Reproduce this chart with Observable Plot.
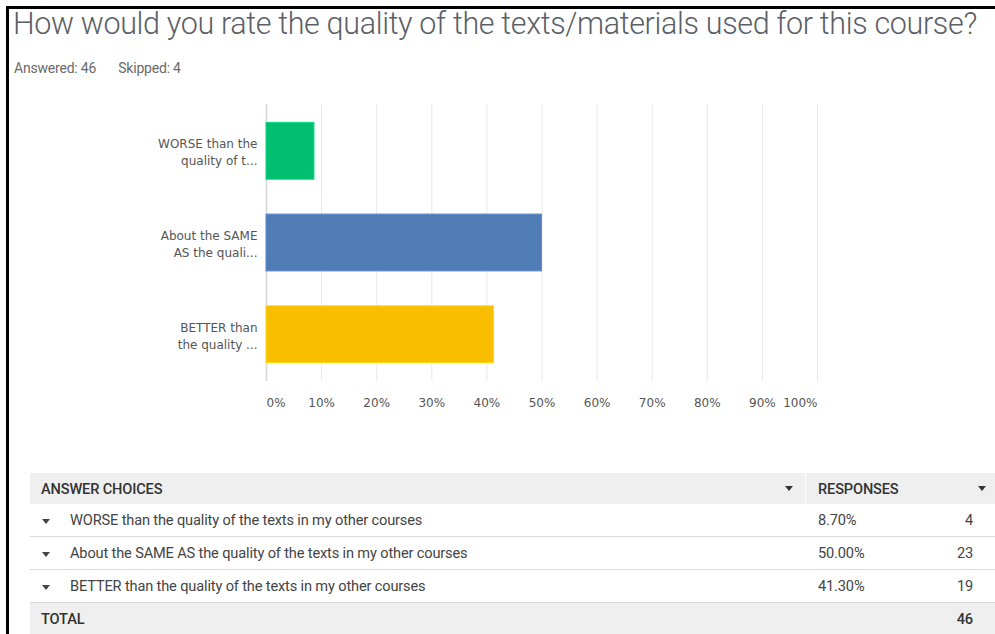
<!DOCTYPE html>
<html>
<head>
<meta charset="utf-8">
<script src="https://cdn.jsdelivr.net/npm/d3@7"></script>
<script src="https://cdn.jsdelivr.net/npm/@observablehq/plot@0.6"></script>
<style>
  html, body { margin: 0; padding: 0; background: #fff; }
  body { width: 995px; height: 634px; overflow: hidden; position: relative; font-family: Roboto, "Open Sans", sans-serif; }
  #frame { position: absolute; left: 6px; top: 6px; right: -10px; bottom: -10px; border-left: 3px solid #000; border-top: 3px solid #000; }
  #title { position: absolute; left: 13px; top: 6px; font-size: 30.5px; font-weight: 300; color: #5b5f66; white-space: nowrap; letter-spacing: -0.35px; }
  #sub { position: absolute; left: 14px; top: 60px; font-size: 14px; color: #6b6b6b; white-space: nowrap; letter-spacing: -0.2px; }
  #sub span { margin-right: 22px; }
  #chart { position: absolute; left: 0; top: 95px; }
  #tbl { position: absolute; left: 30px; top: 473px; width: 965px; table-layout: fixed; border-collapse: collapse; font-size: 14.6px; color: #333; letter-spacing: -0.15px; }
  #tbl td { padding: 0; height: 32px; border-bottom: 1px solid #d9d9d9; white-space: nowrap; }
  #tbl tr.head td, #tbl tr.total td { background: #efefef; font-weight: 500; color: #333; border-bottom: 0; }
  #tbl tr.head td { height: 31px; }
  #tbl tr.total td { height: 31px; }
  .tri { display: inline-block; width: 0; height: 0; border-left: 4px solid transparent; border-right: 4px solid transparent; border-top: 5px solid #333; vertical-align: middle; }
</style>
</head>
<body>
<div id="frame"></div>
<div id="title"></div>
<div id="sub"></div>
<div id="chart"></div>
<table id="tbl"><colgroup><col style="width:745px"><col style="width:30px"><col style="width:1px"><col style="width:140px"><col style="width:49px"></colgroup><tbody id="tb"></tbody></table>
<script>
const title = "How would you rate the quality of the texts/materials used for this course?";
const answered = 46;
const skipped = 4;
const choices = [
  "WORSE than the quality of the texts in my other courses",
  "About the SAME AS the quality of the texts in my other courses",
  "BETTER than the quality of the texts in my other courses"
];
const shortLabels = [
  "WORSE than the\nquality of t...",
  "About the SAME\nAS the quali...",
  "BETTER than\nthe quality ..."
];
const percents = [8.70, 50.00, 41.30];
const counts = [4, 23, 19];
const total = 46;
const xTicks = [0, 10, 20, 30, 40, 50, 60, 70, 80, 90, 100];
const barColors = ["#00bf6f", "#507cb6", "#f9be00"];

document.getElementById("title").textContent = title;
document.getElementById("sub").innerHTML = `<span>Answered: ${answered}</span><span>Skipped: ${skipped}</span>`;

const data = choices.map((c, i) => ({choice: c, label: shortLabels[i], pct: percents[i]}));

const chart = Plot.plot({
  width: 995,
  height: 325,
  marginLeft: 266,
  marginRight: 178,
  marginTop: 9,
  marginBottom: 39,
  x: {domain: [0, 100], axis: null},
  y: {domain: choices, axis: null, paddingInner: 0.38, paddingOuter: 0.2, round: false},
  color: {domain: choices, range: barColors},
  style: {fontFamily: "'DejaVu Sans', sans-serif", fontSize: "12px", color: "#555", background: "transparent"},
  marks: [
    Plot.gridX(xTicks, {stroke: "#e8e8e8", strokeOpacity: 1}),
    Plot.ruleX([0], {stroke: "#d6d6d6", strokeWidth: 1.5}),
    Plot.ruleY([0], {frameAnchor: "bottom", stroke: "#d6d6d6", strokeWidth: 1.5}),
    Plot.barX(data, {x: "pct", y: "choice", fill: "choice", stroke: d => d3.color(barColors[choices.indexOf(d.choice)]).brighter(0.4).formatHex(), strokeWidth: 1}),
    Plot.text(data, {x: 0, y: "choice", text: "label", textAnchor: "end", dx: -9, lineHeight: 1.42, fill: "#555", fontSize: 12}),
    Plot.text(xTicks.filter(t => t === 0), {x: d => d, text: d => d + "%", frameAnchor: "bottom", textAnchor: "start", dy: 25, fill: "#555"}),
    Plot.text(xTicks.filter(t => t > 0 && t < 100), {x: d => d, text: d => d + "%", frameAnchor: "bottom", textAnchor: "middle", dy: 25, fill: "#555"}),
    Plot.text(xTicks.filter(t => t === 100), {x: d => d, text: d => d + "%", frameAnchor: "bottom", textAnchor: "end", dy: 25, fill: "#555"})
  ]
});
document.getElementById("chart").appendChild(chart);

const tb = document.getElementById("tb");
let html = `<tr class="head"><td style="padding-left:11px">ANSWER CHOICES</td><td style="padding-left:10px"><span class="tri" style="vertical-align:3px"></span></td><td style="background:#fff"></td><td style="padding-left:12px">RESPONSES</td><td style="padding-left:32px"><span class="tri" style="vertical-align:3px"></span></td></tr>`;
choices.forEach((c, i) => {
  html += `<tr><td colspan="3" style="padding-left:12px;color:#444;font-weight:400"><span class="tri" style="margin-right:20px;border-top-color:#444"></span>${c}</td><td style="padding-left:12px;color:#444">${percents[i].toFixed(2)}%</td><td style="text-align:right;padding-right:22px;color:#444">${counts[i]}</td></tr>`;
});
html += `<tr class="total"><td colspan="3" style="padding-left:11px">TOTAL</td><td></td><td style="text-align:right;padding-right:22px">${total}</td></tr>`;
tb.innerHTML = html;
</script>
</body>
</html>
